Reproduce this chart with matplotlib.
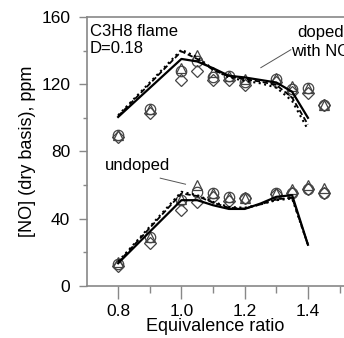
import matplotlib
matplotlib.use("Agg")
import matplotlib.pyplot as plt

plt.rcParams["font.family"] = ["Liberation Sans", "DejaVu Sans"]

# Messpunkte (phi)
phi_exp = [0.8, 0.9, 1.0, 1.05, 1.1, 1.15, 1.2, 1.3, 1.35, 1.4, 1.45]

# dotiert mit NO
dop_tri = [90, 105, 129.5, 137.5, 127.5, 125, 123, 123.5, 119, 118, 107.7]
dop_circ = [90, 105, 128, 133.5, 124.5, 125, 121, 123, 117, 118, 107.7]
dop_dia = [88.5, 103, 122.5, 128, 122.5, 122.5, 119.5, 121.5, 115.5, 114.5, 107.5]

# undotiert
und_tri = [14, 29, 52, 60, 55.5, 53, 52.5, 55.5, 57.5, 60, 58]
und_circ = [12.8, 29, 51, 56, 55.5, 53, 52.5, 55, 55.5, 57.5, 55]
und_dia = [12, 25.5, 45.2, 50, 53, 50.8, 52.5, 54.5, 55.5, 57.5, 55]

# Modellrechnungen
phi_mod = [0.8, 1.0, 1.05, 1.1, 1.15, 1.2, 1.25, 1.3, 1.35, 1.4]
dop_solid = [100.5, 135, 133.5, 129.5, 125, 124, 122.5, 121, 115.5, 100]
dop_dash = [101, 139.5, 135, 128.5, 124.5, 123, 121.5, 119.5, 112, 96]
dop_dot = [101.5, 140.5, 136, 129, 124, 122, 120.5, 118, 110, 93]

phi_und = [0.8, 1.0, 1.05, 1.1, 1.15, 1.2, 1.25, 1.3, 1.35, 1.4]
und_solid = [13.5, 51, 51, 48, 45.8, 45.8, 49, 53, 54, 24.5]
und_dash = [14, 55, 53.5, 49.5, 46.5, 46, 48.5, 51.5, 52.5, 24.5]
und_dot = [14.5, 56, 54, 50, 47, 46.5, 48.5, 51, 52, 24.5]

fig = plt.figure(figsize=(3.44, 3.38), dpi=100)
ax = fig.add_axes([0.253, 0.154, 0.747, 0.796])

mk = dict(mfc="none", mec="#444444", mew=0.9, ls="none", ms=7.5)
for ys in (dop_tri, und_tri):
    ax.plot(phi_exp, ys, marker="^", **mk)
for ys in (dop_circ, und_circ):
    ax.plot(phi_exp, ys, marker="o", **mk)
for ys in (dop_dia, und_dia):
    ax.plot(phi_exp, ys, marker="D", **dict(mk, ms=6))

ax.plot(phi_mod, dop_solid, "k-", lw=1.6)
ax.plot(phi_mod, dop_dash, color="k", ls=(0, (3, 1.5)), lw=1.3)
ax.plot(phi_mod, dop_dot, color="k", ls=":", lw=1.5)
ax.plot(phi_und, und_solid, "k-", lw=1.6)
ax.plot(phi_und, und_dash, color="k", ls=(0, (3, 1.5)), lw=1.3)
ax.plot(phi_und, und_dot, color="k", ls=":", lw=1.5)

ax.set_xlim(0.7016, 1.514)
ax.set_ylim(0, 160)
ax.set_xticks([0.8, 1.0, 1.2, 1.4])
ax.set_xticks([0.9, 1.1, 1.3, 1.5], minor=True)
ax.set_yticks([0, 40, 80, 120, 160])
ax.set_yticks([20, 60, 100, 140], minor=True)
ax.tick_params(axis="x", which="major", direction="out", length=9, width=1, color="#888888", labelsize=12.5, pad=4)
ax.tick_params(axis="x", which="minor", direction="out", length=5, width=1, color="#888888")
ax.tick_params(axis="y", which="major", direction="out", length=6, width=1, color="#888888", labelsize=12.5, pad=6)
ax.tick_params(axis="y", which="minor", direction="out", length=3, width=1, color="#888888")

for s in ("left", "top", "bottom"):
    ax.spines[s].set_color("#888888")
    ax.spines[s].set_linewidth(1.2)
ax.spines["right"].set_visible(False)

ax.set_xlabel("Equivalence ratio", fontsize=13, labelpad=-1)
ax.set_ylabel("[NO] (dry basis), ppm", fontsize=13, labelpad=4)

ax.text(0.711, 151.2, "C3H8 flame", fontsize=12, va="center")
ax.text(0.711, 141.5, "D=0.18", fontsize=12, va="center")
ax.text(1.366, 150.5, "doped", fontsize=12, va="center", clip_on=False)
ax.text(1.346, 139.5, "with NO", fontsize=12, va="center", clip_on=False)
ax.plot([1.251, 1.346], [129.8, 140.5], color="#555555", lw=0.7)
ax.text(0.759, 71.5, "undoped", fontsize=12, va="center")
ax.plot([0.933, 1.013], [64.1, 60.5], color="#555555", lw=0.7)

fig.savefig("out.png", dpi=100)
